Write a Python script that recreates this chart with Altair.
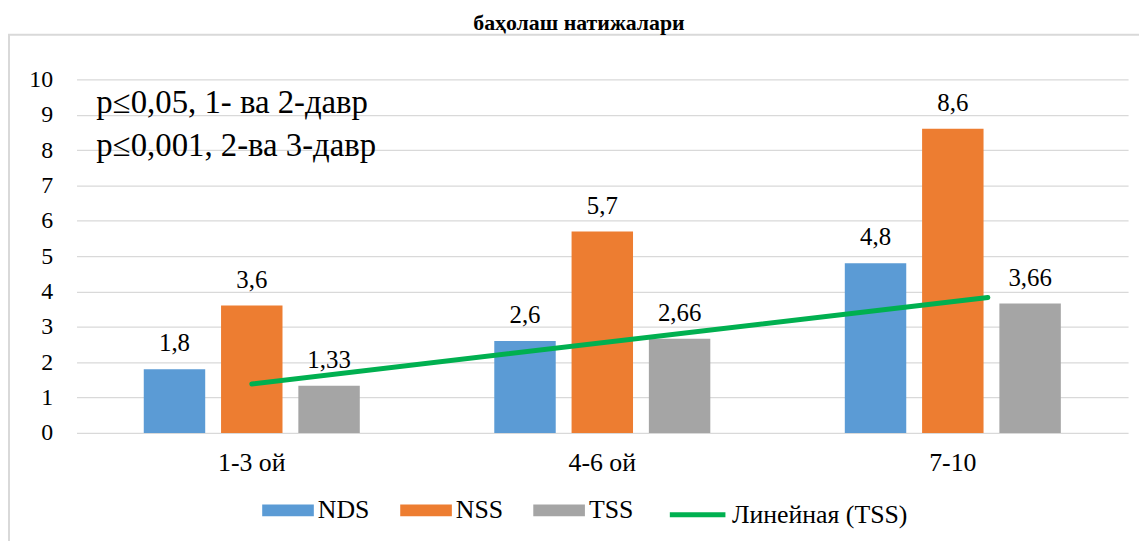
import altair as alt
import pandas as pd

groups = ["1-3 ой", "4-6 ой", "7-10"]
group_idx = [1, 2, 3]
series_names = ["NDS", "NSS", "TSS"]
NDS = [1.8, 2.6, 4.8]
NSS = [3.6, 5.7, 8.6]
TSS = [1.33, 2.66, 3.66]
trend_name = "Линейная (TSS)"
title_text = "баҳолаш натижалари"
notes = ["p≤0,05, 1- ва 2-давр", "p≤0,001, 2-ва 3-давр"]
y_ticks = list(range(0, 11))

bar_colors = ["#5B9BD5", "#ED7D31", "#A5A5A5"]
trend_color = "#00B050"

rows = []
for s, vals in zip(series_names, [NDS, NSS, TSS]):
    for g, i, v in zip(groups, group_idx, vals):
        rows.append({"group": g, "idx": i, "series": s, "value": v})
df = pd.DataFrame(rows)

FONT = "Liberation Serif"

rect_path = "M-1,-0.23H1V0.23H-1Z"

legend_common = dict(
    title=None, orient="none", direction="horizontal", legendY=408,
    symbolOpacity=1, labelFont=FONT, labelFontSize=26, labelColor="#000000",
    labelOffset=4, labelLimit=400,
)
bar_legend = alt.Legend(
    legendX=187, symbolType=rect_path, symbolSize=2704, symbolStrokeWidth=0,
    columnPadding=30, **legend_common,
)
trend_legend = alt.Legend(
    legendX=595, symbolType="stroke", symbolSize=3136, symbolStrokeWidth=5,
    **legend_common,
)

base = alt.Chart(df)

x_scale = alt.Scale(paddingInner=0, paddingOuter=0)
y_scale = alt.Scale(domain=[0, 10], nice=False)

x_enc = alt.X(
    "group:N",
    sort=groups,
    scale=x_scale,
    axis=alt.Axis(
        title=None, domain=False, ticks=False, grid=False,
        labelFont=FONT, labelFontSize=26, labelColor="#000000",
        labelPadding=17, labelBaseline="top", labelAngle=0,
    ),
)
xoff_enc = alt.XOffset(
    "series:N", sort=series_names,
    scale=alt.Scale(paddingInner=0.205, paddingOuter=0.87),
)
y_axis = alt.Axis(
    title=None, values=y_ticks, domain=False, ticks=False,
    grid=True, gridColor="#D9D9D9", gridWidth=1.5,
    labelFont=FONT, labelFontSize=24, labelColor="#000000",
    labelPadding=24,
)
y_enc = alt.Y("value:Q", scale=y_scale, axis=y_axis)

bars = base.mark_bar().encode(
    x=x_enc,
    xOffset=xoff_enc,
    y=y_enc,
    color=alt.Color("series:N", sort=series_names,
                    scale=alt.Scale(domain=series_names, range=bar_colors),
                    legend=bar_legend),
)

labels = base.mark_text(
    font=FONT, fontSize=25, color="#000000", baseline="alphabetic", dy=-18
).transform_calculate(
    lab="replace(toString(datum.value), '.', ',')"
).encode(
    x=x_enc,
    xOffset=xoff_enc,
    y=y_enc,
    text="lab:N",
)

trend = base.transform_filter(
    alt.datum.series == "TSS"
).transform_regression(
    "idx", "value", extent=[1, 3.1]
).transform_calculate(
    trend=f"'{trend_name}'"
).mark_line(strokeWidth=5, strokeCap="round").encode(
    x=alt.X("idx:Q", scale=alt.Scale(domain=[0.5, 3.5], nice=False, zero=False), axis=None),
    y=y_enc,
    stroke=alt.Stroke("trend:N", scale=alt.Scale(domain=[trend_name], range=[trend_color]),
                      legend=trend_legend),
)

blank = alt.Chart(alt.Data(values=[{"a": 1}]))

frame = blank.mark_rect(fill="transparent", stroke="#D9D9D9", strokeWidth=2).encode(
    x=alt.value(-68), x2=alt.value(1200), y=alt.value(-45), y2=alt.value(520)
)

title_mark = blank.mark_text(
    text=title_text, font=FONT, fontSize=22, fontWeight="bold", color="#000000",
    align="center", baseline="alphabetic",
).encode(x=alt.value(506), y=alt.value(-50))

note1 = blank.mark_text(
    text=notes[0], font=FONT, fontSize=33, color="#000000", align="left", baseline="alphabetic"
).encode(x=alt.value(20), y=alt.value(34))
note2 = blank.mark_text(
    text=notes[1], font=FONT, fontSize=33, color="#000000", align="left", baseline="alphabetic"
).encode(x=alt.value(20), y=alt.value(77))

chart = alt.layer(
    alt.layer(bars, labels), trend, frame, title_mark, note1, note2
).resolve_scale(
    x="independent"
).properties(
    width=1059,
    height=356,
    autosize=alt.AutoSizeParams(type="none"),
    padding={"left": 69, "top": 70, "right": 11, "bottom": 107},
).configure(
    background="white",
    font=FONT,
).configure_view(
    stroke=None
)

chart.save("out.html", embed_options={"renderer": "svg", "actions": False})
